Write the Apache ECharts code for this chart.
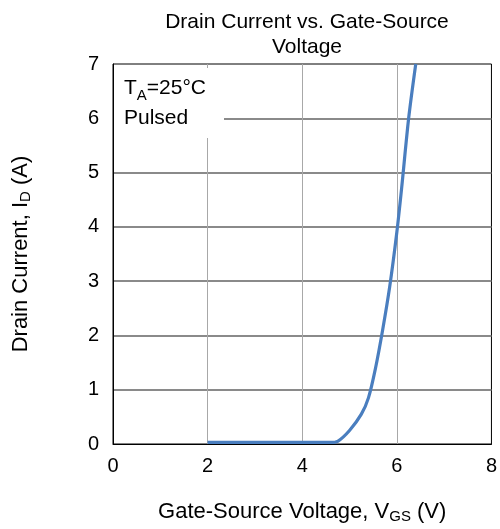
<!DOCTYPE html>
<html><head><meta charset="utf-8">
<script src="https://cdn.jsdelivr.net/npm/echarts@6/dist/echarts.min.js"></script>
<style>html,body{margin:0;padding:0;background:#fff}#c{width:500px;height:529px}</style>
</head><body><div id="c"></div>
<script>
var vgs = [2.0, 3.0, 4.0, 4.6, 4.75, 5.0, 5.25, 5.4, 5.55, 5.7, 5.85, 6.0, 6.1, 6.25, 6.4];
var idA = [0.03, 0.03, 0.03, 0.03, 0.05, 0.25, 0.55, 0.85, 1.4, 2.1, 2.9, 3.9, 4.7, 6.0, 7.0];
var xTicks = [0, 2, 4, 6, 8];
var yTicks = [0, 1, 2, 3, 4, 5, 6, 7];
var titleText = 'Drain Current vs. Gate-Source\nVoltage';

var chart = echarts.init(document.getElementById('c'));
var font = 'Liberation Sans, Arial, sans-serif';
chart.setOption({
  animation: false,
  title: { text: titleText, left: 302, top: 5, textAlign: 'center',
    textStyle: { fontFamily: font, fontSize: 21, fontWeight: 'normal', color: '#000', lineHeight: 25 } },
  grid: { left: 113, right: 7, top: 64, bottom: 83, show: true, borderColor: '#000', borderWidth: 1, backgroundColor: 'transparent' },
  xAxis: {
    type: 'value', min: xTicks[0], max: xTicks[xTicks.length - 1], interval: 2,
    axisLine: { lineStyle: { color: '#000', width: 1 } },
    axisTick: { show: false },
    axisLabel: { fontFamily: font, fontSize: 20, color: '#000', margin: 12 },
    splitLine: { show: true, showMinLine: false, showMaxLine: false, lineStyle: { color: '#a8a8a8', width: 1 } },
    name: 'Gate-Source Voltage, V{s|GS} (V)', nameLocation: 'middle', nameGap: 56,
    nameTextStyle: { fontFamily: font, fontSize: 22, color: '#000',
      rich: { s: { fontFamily: font, fontSize: 15, color: '#000', verticalAlign: 'bottom', padding: [9, 0, 0, 0] } } }
  },
  yAxis: {
    type: 'value', min: yTicks[0], max: yTicks[yTicks.length - 1], interval: 1,
    axisLine: { show: true, lineStyle: { color: '#000', width: 1 } },
    axisTick: { show: false },
    axisLabel: { fontFamily: font, fontSize: 20, color: '#000', margin: 14 },
    splitLine: { show: true, showMinLine: false, showMaxLine: false, lineStyle: { color: '#8a8a8a', width: 2 } },
    name: 'Drain Current, I{s|D} (A)', nameLocation: 'middle', nameGap: 80, nameRotate: 90,
    nameTextStyle: { fontFamily: font, fontSize: 22, color: '#000',
      rich: { s: { fontFamily: font, fontSize: 15, color: '#000', verticalAlign: 'bottom', padding: [9, 0, 0, 0] } } }
  },
  graphic: [
    { type: 'rect', left: 114, top: 68, z: 50, shape: { width: 110, height: 70 }, style: { fill: '#fff' } },
    { type: 'text', left: 124, top: 73, z: 51, style: { text: 'T{s|A}=25°C\nPulsed', fontFamily: font, fontSize: 21, fill: '#000', lineHeight: 30,
      rich: { s: { fontFamily: font, fontSize: 15, fill: '#000', verticalAlign: 'bottom', padding: [10, 0, 0, 0] } } } }
  ],
  series: [{
    type: 'line', data: vgs.map(function (v, i) { return [v, idA[i]]; }),
    smooth: 0.3, showSymbol: false, clip: true, z: 10,
    lineStyle: { color: '#4a7ebf', width: 3.2 }
  }]
});
</script></body></html>
